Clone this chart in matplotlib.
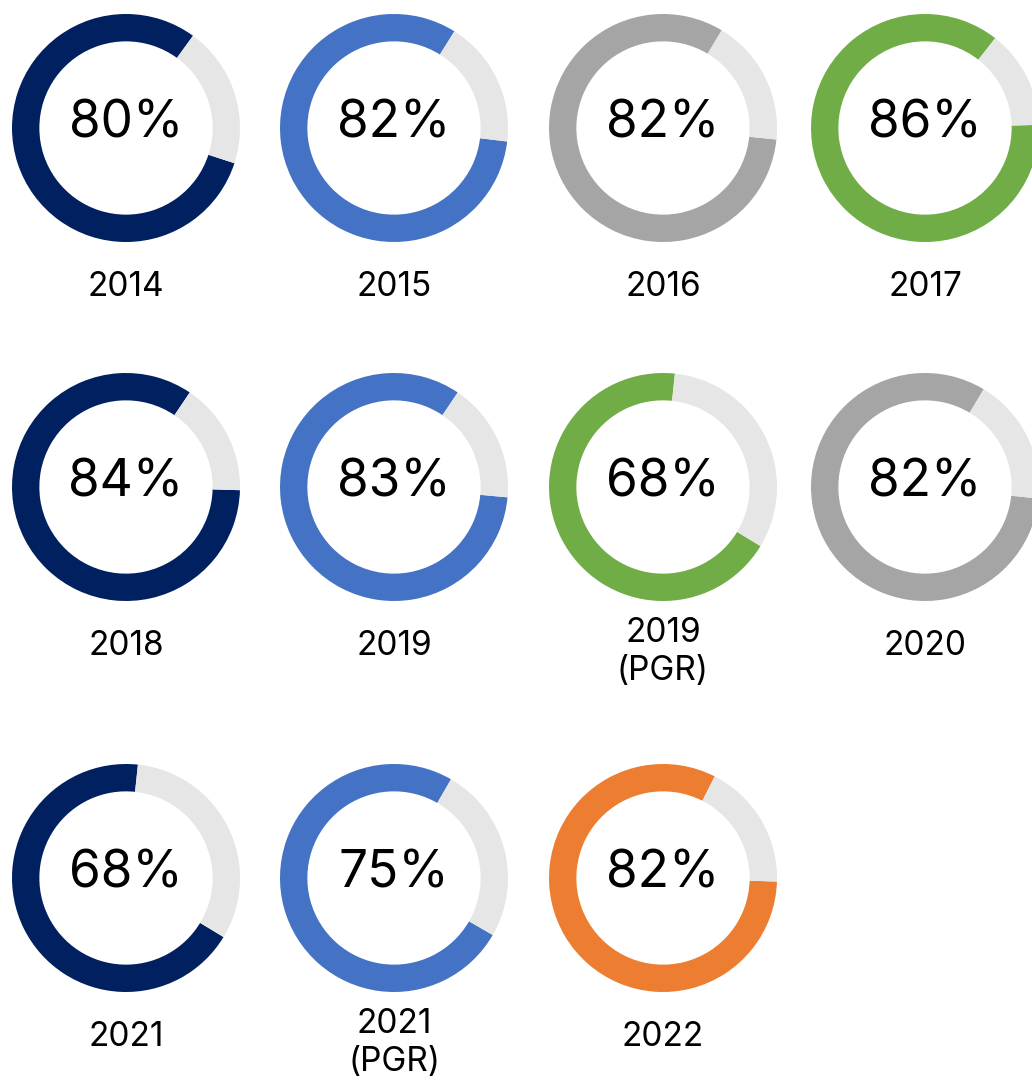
import matplotlib
matplotlib.use("Agg")
import matplotlib.pyplot as plt

# data
labels = ["2014", "2015", "2016", "2017",
          "2018", "2019", "2019\n(PGR)", "2020",
          "2021", "2021\n(PGR)", "2022"]
values = [80, 82, 82, 86, 84, 83, 68, 82, 68, 75, 82]

# colours for each donut
navy, blue, grey, green, orange = "#002060", "#4472C4", "#A5A5A5", "#70AD47", "#ED7D31"
ring_colors = [navy, blue, grey, green,
               navy, blue, green, grey,
               navy, blue, orange]
track = "#E7E6E6"
start_angles = [54, 58, 59, 52, 56, 56, 84, 59, 84, 60, 63]

# layout in pixels
W, H = 1032, 1088
col_x = [126, 394, 663, 925]
row_y = [128, 487, 878]
R = 114

plt.rcParams["font.family"] = ["Inter", "DejaVu Sans"]
fig = plt.figure(figsize=(W / 100, H / 100), dpi=100)

for i, (lab, val, col, sa) in enumerate(zip(labels, values, ring_colors, start_angles)):
    cx = col_x[i % 4]
    cy = row_y[i // 4]
    ax = fig.add_axes([(cx - R) / W, 1 - (cy + R) / H, 2 * R / W, 2 * R / H])
    ax.pie([val, 100 - val], colors=[col, track], startangle=sa, counterclock=True,
           radius=1, wedgeprops=dict(width=0.24, linewidth=0))
    ax.set_xlim(-1, 1)
    ax.set_ylim(-1, 1)
    ax.set_aspect("equal")
    ax.axis("off")
    # percentage in the middle
    fig.text(cx / W, 1 - (cy - 4) / H, f"{val}%", ha="center", va="center",
             fontsize=37, color="black")
    # year under the donut (two-line labels sit a little higher)
    top = cy + 143 - (13 if "\n" in lab else 0)
    fig.text(cx / W, 1 - top / H, lab, ha="center", va="top",
             fontsize=24, color="black", linespacing=1.25)

fig.savefig("out.png", dpi=100)
